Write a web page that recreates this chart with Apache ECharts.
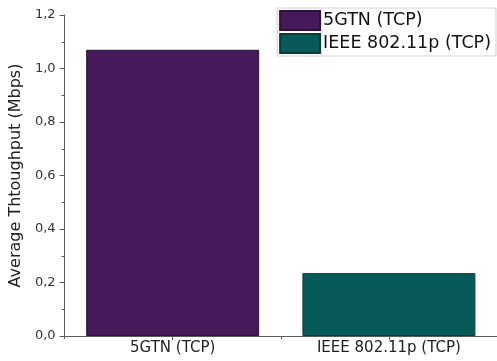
<!DOCTYPE html>
<html>
<head>
<meta charset="utf-8">
<script src="https://cdn.jsdelivr.net/npm/echarts@6/dist/echarts.min.js"></script>
<style>
  html, body { margin: 0; padding: 0; background: #fff; }
  #chart { width: 497px; height: 361px; }
</style>
</head>
<body>
<div id="chart"></div>
<script>
// Average TCP throughput per technology
const categories = ['5GTN (TCP)', 'IEEE 802.11p (TCP)'];
const seriesNames = ['5GTN (TCP)', 'IEEE 802.11p (TCP)'];
const throughput5gtn = [1.07, null];
const throughput80211p = [null, 0.235];
const yTicks = [0, 0.2, 0.4, 0.6, 0.8, 1.0, 1.2];

const chart = echarts.init(document.getElementById('chart'), null, { renderer: 'canvas' });
const axisColor = '#5a5a5a';
const font = '"DejaVu Sans", Arial, sans-serif';

chart.setOption({
  animation: false,
  backgroundColor: '#fff',
  grid: { left: 62, right: -2, top: 15, bottom: 25, containLabel: false },
  legend: {
    data: seriesNames.map(n => ({ name: n, icon: 'rect' })),
    orient: 'vertical',
    right: 1,
    top: 8,
    itemWidth: 40,
    itemHeight: 19,
    itemGap: 2,
    padding: [2, 5, 2, 2],
    borderColor: '#cfcfcf',
    borderWidth: 1,
    textStyle: { fontFamily: font, fontSize: 17.5, color: '#111', padding: [0, 0, 0, -2] },
    selectedMode: false
  },
  xAxis: [{
    type: 'category',
    data: categories,
    axisLine: { lineStyle: { color: axisColor, width: 1 } },
    axisTick: { show: true, alignWithLabel: true, length: 4, lineStyle: { color: axisColor } },
    axisLabel: { fontFamily: font, fontSize: 15, color: '#222', margin: 5, interval: 0 }
  }, {
    // boundary tick between the two categories
    type: 'value',
    position: 'bottom',
    min: 0, max: 2, interval: 1,
    axisLine: { show: false },
    axisTick: { show: true, length: 3, lineStyle: { color: axisColor } },
    axisLabel: { show: false },
    splitLine: { show: false }
  }],
  yAxis: {
    type: 'value',
    min: yTicks[0],
    max: yTicks[yTicks.length - 1],
    interval: 0.2,
    name: 'Average Thtoughput (Mbps)',
    nameLocation: 'middle',
    nameGap: 37,
    nameTextStyle: { fontFamily: font, fontSize: 16, color: '#222' },
    axisLine: { show: true, lineStyle: { color: axisColor, width: 1 } },
    axisTick: { show: true, length: 5, lineStyle: { color: axisColor } },
    minorTick: { show: true, splitNumber: 2, length: 3, lineStyle: { color: axisColor } },
    splitLine: { show: false },
    axisLabel: {
      fontFamily: font, fontSize: 13, color: '#333', margin: 9,
      formatter: v => v.toFixed(1).replace('.', ',')
    }
  },
  series: [{
    name: seriesNames[0],
    type: 'bar',
    data: throughput5gtn,
    barWidth: '80%',
    barGap: '-100%',
    itemStyle: { color: '#45195a', borderColor: '#2e0f3e', borderWidth: 1 }
  }, {
    name: seriesNames[1],
    type: 'bar',
    data: throughput80211p,
    barWidth: '80%',
    itemStyle: { color: '#075a58', borderColor: '#033d3c', borderWidth: 1 }
  }]
});
</script>
</body>
</html>
